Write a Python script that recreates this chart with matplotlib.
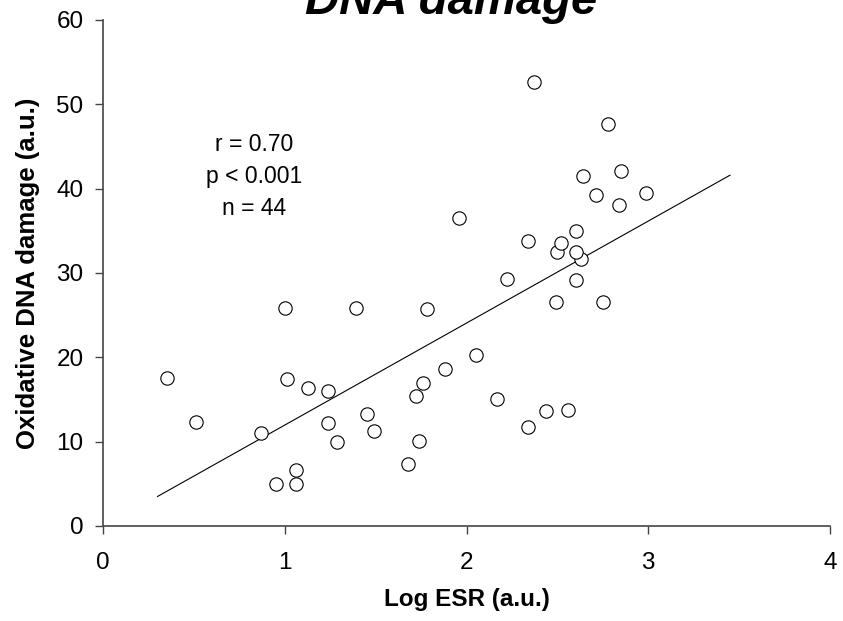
import matplotlib
matplotlib.use("Agg")
import matplotlib.pyplot as plt

# values
log_esr = [0.35, 0.51, 0.87, 0.95, 1.06, 1.06, 1.00, 1.01, 1.13, 1.24, 1.24,
           1.29, 1.39, 1.45, 1.49, 1.68, 1.72, 1.76, 1.74, 1.78, 1.88, 1.96,
           2.05, 2.17, 2.22, 2.34, 2.34, 2.37, 2.44, 2.56, 2.49, 2.75, 2.60,
           2.63, 2.50, 2.60, 2.52, 2.60, 2.99, 2.84, 2.71, 2.85, 2.64, 2.78]
dna_damage = [17.6, 12.3, 11.0, 5.0, 5.0, 6.6, 25.9, 17.4, 16.4, 16.0, 12.2,
              10.0, 25.9, 13.3, 11.3, 7.4, 15.4, 17.0, 10.1, 25.7, 18.6, 36.5,
              20.3, 15.1, 29.3, 11.7, 33.8, 52.7, 13.6, 13.8, 26.6, 26.6, 29.2,
              31.6, 32.5, 32.5, 33.6, 35.0, 39.5, 38.1, 39.3, 42.1, 41.5, 47.7]

# regression line ends as drawn in the figure
fit_x = [0.30, 3.45]
fit_y = [3.5, 41.6]

stats_text = "r = 0.70\np < 0.001\nn = 44"

plt.rcParams['font.family'] = ['Liberation Sans', 'DejaVu Sans']

fig = plt.figure(figsize=(8.43, 6.21), dpi=100)
ax = fig.add_axes([0.1222, 0.153, 0.8624, 0.8148])

ax.plot(log_esr, dna_damage, 'o', markersize=9.6, markerfacecolor='white',
        markeredgecolor='black', markeredgewidth=0.8, linestyle='none', zorder=3)
ax.plot(fit_x, fit_y, color='black', linewidth=0.8, zorder=2)

ax.set_xlim(0, 4)
ax.set_ylim(0, 60)
ax.set_xticks([0, 1, 2, 3, 4])
ax.set_yticks([0, 10, 20, 30, 40, 50, 60])

for side in ['top', 'right']:
    ax.spines[side].set_visible(False)
for side in ['left', 'bottom']:
    ax.spines[side].set_color('#444444')
    ax.spines[side].set_linewidth(1.2)

ax.tick_params(direction='out', length=6, width=1.0, color='#444444',
               labelsize=17.5)
ax.tick_params(axis='x', pad=13)
ax.tick_params(axis='y', pad=8)

ax.set_xlabel("Log ESR (a.u.)", fontsize=17.5, fontweight='bold', labelpad=10)
ax.set_ylabel("Oxidative DNA damage (a.u.)", fontsize=18.5, fontweight='bold',
              labelpad=12)

ax.text(0.83, 41.5, stats_text, fontsize=16.5, ha='center', va='center',
        linespacing=1.5)

fig.text(451 / 843, 1 - 14 / 621, "DNA damage", fontsize=34,
         fontweight='bold', fontstyle='italic', ha='center', va='baseline')

fig.savefig("out.png", dpi=100)
